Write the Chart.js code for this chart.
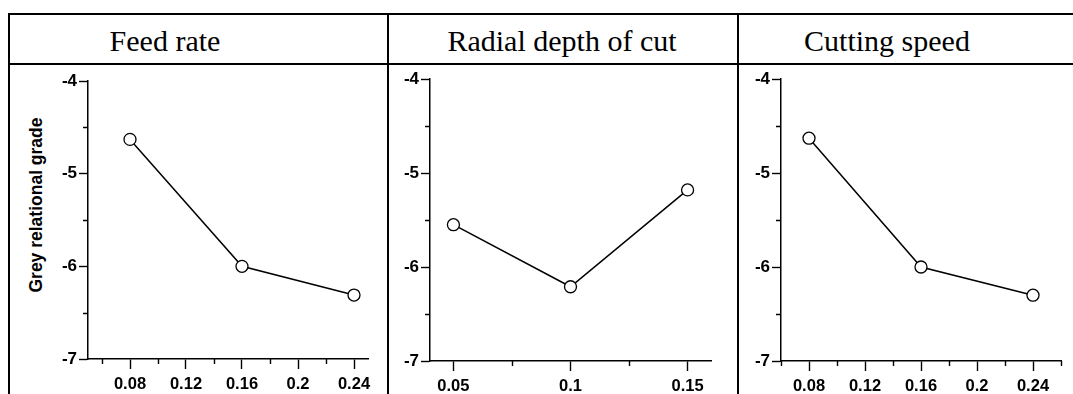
<!DOCTYPE html>
<html>
<head>
<meta charset="utf-8">
<script src="https://cdn.jsdelivr.net/npm/chart.js@4.4.1/dist/chart.umd.min.js"></script>
<style>
  html, body { margin: 0; padding: 0; background: #fff; }
  #wrap { position: relative; width: 1073px; height: 394px; overflow: hidden; background: #fff; }
  .ln { position: absolute; background: #000; }
  .head { position: absolute; top: 24px; font-family: "Liberation Serif", "Times New Roman", serif; font-size: 30px; white-space: nowrap; transform: translateX(-50%); color: #000; }
  .ytitle { position: absolute; font-family: "Liberation Sans", Arial, sans-serif; font-weight: bold; font-size: 17.5px; white-space: nowrap; transform: translate(-50%, -50%) rotate(-90deg); color: #000; }
  canvas { position: absolute; display: block; }
</style>
</head>
<body>
<div id="wrap">
  <!-- tabla -->
  <div class="ln" style="left:8px; top:13px; width:1065px; height:2px;"></div>
  <div class="ln" style="left:8px; top:63px; width:1065px; height:2px;"></div>
  <div class="ln" style="left:8px; top:13px; width:2px; height:381px;"></div>
  <div class="ln" style="left:387px; top:13px; width:2px; height:381px;"></div>
  <div class="ln" style="left:737px; top:13px; width:2px; height:381px;"></div>

  <div class="head" style="left:165px;">Feed rate</div>
  <div class="head" style="left:562px;">Radial depth of cut</div>
  <div class="head" style="left:887px;">Cutting speed</div>
  <div class="ytitle" style="left:36px; top:205px;">Grey relational grade</div>

  <canvas id="c1" width="377" height="329" style="left:10px; top:65px;"></canvas>
  <canvas id="c2" width="348" height="329" style="left:389px; top:65px;"></canvas>
  <canvas id="c3" width="334" height="329" style="left:739px; top:65px;"></canvas>
</div>
<script>
// Datos
const feedRate = [0.08, 0.16, 0.24];
const feedGrade = [-4.63, -6.00, -6.31];
const radialDepth = [0.05, 0.10, 0.15];
const radialGrade = [-5.55, -6.21, -5.18];
const cuttingSpeed = [0.08, 0.16, 0.24];
const cuttingGrade = [-4.63, -6.00, -6.30];

// Ticks (etiqueta vacia = tick menor)
const feedTickValues = [0.06, 0.08, 0.10, 0.12, 0.14, 0.16, 0.18, 0.20, 0.22, 0.24];
const feedTickLabels = ['', '0.08', '', '0.12', '', '0.16', '', '0.2', '', '0.24'];
const radialTickValues = [0.05, 0.075, 0.10, 0.125, 0.15];
const radialTickLabels = ['0.05', '', '0.1', '', '0.15'];
const speedTickValues = [0.06, 0.08, 0.10, 0.12, 0.14, 0.16, 0.18, 0.20, 0.22, 0.24, 0.26];
const speedTickLabels = ['', '0.08', '', '0.12', '', '0.16', '', '0.2', '', '0.24', ''];
const yTickValues = [-7, -6.5, -6, -5.5, -5, -4.5, -4];
const yTickLabels = ['-7', '', '-6', '', '-5', '', '-4'];

Chart.defaults.font.family = '"Liberation Sans", Arial, sans-serif';
Chart.defaults.color = '#000';

// ticks menores mas cortos
const minorTicks = {
    id: 'minorTicks',
    afterDraw(chart) {
        const ctx = chart.ctx;
        const xs = chart.scales.x;
        const ys = chart.scales.y;
        ctx.save();
        ctx.strokeStyle = '#000';
        ctx.lineWidth = 1.4;
        ctx.beginPath();
        xs.ticks.forEach(t => {
            if (t.label !== '') return;
            const px = Math.round(xs.getPixelForValue(t.value)) + 0.5;
            ctx.moveTo(px, xs.top);
            ctx.lineTo(px, xs.top + 5);
        });
        ys.ticks.forEach(t => {
            if (t.label !== '') return;
            const py = Math.round(ys.getPixelForValue(t.value)) + 0.5;
            ctx.moveTo(ys.right - 5, py);
            ctx.lineTo(ys.right, py);
        });
        ctx.stroke();
        ctx.restore();
    }
};

function crearPanel(id, xs, ys, tickValues, tickLabels, xMin, xMax, box) {
    const ctx = document.getElementById(id);
    return new Chart(ctx, {
        type: 'scatter',
        data: {
            datasets: [{
                data: xs.map((x, i) => ({ x: x, y: ys[i] })),
                showLine: true,
                borderColor: '#000',
                borderWidth: 1.5,
                pointRadius: 6,
                pointHoverRadius: 6,
                pointBorderWidth: 1.3,
                pointBorderColor: '#000',
                pointBackgroundColor: '#fff'
            }]
        },
        options: {
            responsive: false,
            animation: false,
            events: [],
            layout: { padding: { left: 0, top: box.top, right: box.right, bottom: 0 } },
            plugins: { legend: { display: false }, tooltip: { enabled: false } },
            scales: {
                x: {
                    type: 'linear',
                    min: xMin,
                    max: xMax,
                    afterBuildTicks: s => { s.ticks = tickValues.map(v => ({ value: v })); },
                    afterFit: s => { s.height = box.bottom; },
                    ticks: {
                        autoSkip: false,
                        maxRotation: 0,
                        padding: 6,
                        font: { size: 16.5, weight: 'bold' },
                        callback: (v, i) => tickLabels[i]
                    },
                    grid: {
                        drawOnChartArea: false,
                        tickLength: 10,
                        tickWidth: 1.4,
                        tickColor: c => tickLabels[c.index] === '' ? 'rgba(0,0,0,0)' : '#000'
                    },
                    border: { display: true, color: '#000', width: 1.5 }
                },
                y: {
                    min: -7,
                    max: -4,
                    afterBuildTicks: s => { s.ticks = yTickValues.map(v => ({ value: v })); },
                    afterFit: s => { s.width = box.left; },
                    ticks: {
                        autoSkip: false,
                        padding: 2,
                        font: { size: 17, weight: 'bold' },
                        callback: (v, i) => yTickLabels[i]
                    },
                    grid: {
                        drawOnChartArea: false,
                        tickLength: 9,
                        tickWidth: 1.4,
                        tickColor: c => yTickLabels[c.index] === '' ? 'rgba(0,0,0,0)' : '#000'
                    },
                    border: { display: true, color: '#000', width: 1.5 }
                }
            }
        },
        plugins: [minorTicks]
    });
}

crearPanel('c1', feedRate, feedGrade, feedTickValues, feedTickLabels, 0.05, 0.25,
    { left: 78, top: 16, right: 19, bottom: 35 });
crearPanel('c2', radialDepth, radialGrade, radialTickValues, radialTickLabels, 0.04, 0.16,
    { left: 41, top: 14, right: 26, bottom: 33 });
crearPanel('c3', cuttingSpeed, cuttingGrade, speedTickValues, speedTickLabels, 0.06, 0.26,
    { left: 42, top: 14, right: 12, bottom: 33 });
</script>
</body>
</html>
